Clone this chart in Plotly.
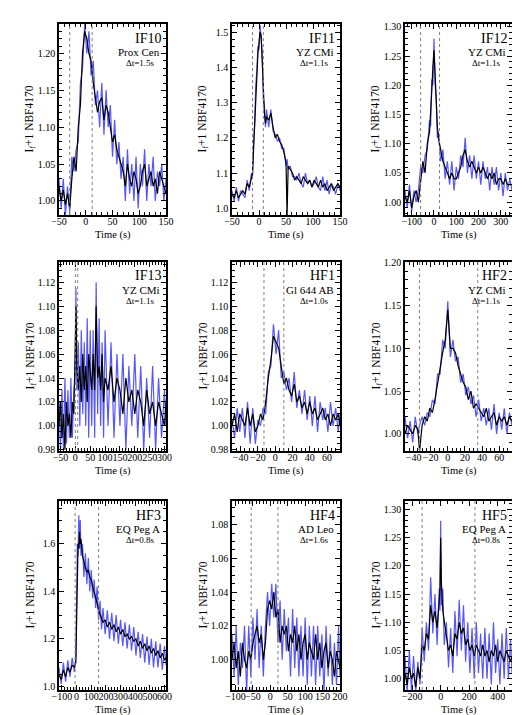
import plotly.graph_objects as go

# ---- data (time in s, I_f+1) ----
t_if10 = [-50,-46,-42,-38,-34,-30,-26,-22,-18,-14,-10,-6,-2,2,6,10,14,18,22,26,30,34,38,42,46,50,54,58,62,66,70,74,78,82,86,90,94,98,102,106,110,114,118,122,126,130,134,138,142,146,150]
k_if10 = [1.02,1.00,1.015,0.995,1.01,0.99,1.03,1.06,1.04,1.10,1.13,1.20,1.23,1.22,1.20,1.19,1.16,1.14,1.12,1.135,1.14,1.11,1.13,1.12,1.10,1.08,1.09,1.07,1.06,1.05,1.04,1.02,1.05,1.03,1.02,1.04,1.03,1.01,1.02,1.04,1.05,1.02,1.03,1.04,1.02,1.03,1.01,1.04,1.03,1.02,1.01]
b_if10 = [1.03,0.99,1.03,0.98,1.02,0.985,1.06,1.04,1.07,1.08,1.16,1.18,1.24,1.20,1.23,1.17,1.19,1.13,1.15,1.10,1.16,1.09,1.15,1.10,1.13,1.06,1.11,1.05,1.08,1.03,1.06,1.00,1.07,1.01,1.05,1.00,1.06,0.99,1.05,1.02,1.07,1.00,1.05,1.02,1.06,1.00,1.04,1.02,1.05,1.00,1.03]

t_if11 = [-50,-46,-42,-38,-34,-30,-26,-22,-18,-14,-12,-10,-8,-6,-4,-2,0,2,4,6,8,10,12,14,18,22,26,30,34,38,42,46,50,52,54,58,62,66,70,74,78,82,86,90,94,98,102,106,110,114,118,122,126,130,134,138,142,146,150]
k_if11 = [1.04,1.03,1.05,1.03,1.04,1.05,1.04,1.07,1.06,1.09,1.10,1.17,1.25,1.33,1.40,1.44,1.47,1.50,1.49,1.42,1.33,1.27,1.24,1.26,1.25,1.27,1.23,1.20,1.21,1.19,1.18,1.16,1.13,0.98,1.12,1.11,1.10,1.08,1.09,1.08,1.07,1.09,1.08,1.07,1.08,1.06,1.08,1.07,1.06,1.08,1.06,1.07,1.05,1.06,1.07,1.05,1.06,1.07,1.06]
b_if11 = [1.05,1.02,1.06,1.02,1.05,1.04,1.03,1.08,1.05,1.10,1.09,1.19,1.24,1.35,1.39,1.46,1.45,1.52,1.47,1.44,1.31,1.29,1.23,1.28,1.23,1.28,1.22,1.21,1.19,1.20,1.17,1.17,1.12,1.14,1.11,1.12,1.09,1.09,1.08,1.10,1.07,1.06,1.10,1.07,1.08,1.06,1.07,1.09,1.06,1.05,1.09,1.05,1.08,1.04,1.07,1.06,1.04,1.07,1.05]

t_if12 = [-130,-120,-110,-100,-90,-80,-70,-60,-50,-40,-30,-20,-15,-10,-5,0,5,10,15,20,30,40,50,60,70,80,90,100,110,120,130,140,150,160,170,180,190,200,210,220,230,240,250,260,270,280,290,300,310,320,330,340,350]
k_if12 = [1.01,1.00,1.02,0.99,1.01,1.02,1.00,1.04,1.07,1.05,1.10,1.12,1.15,1.19,1.23,1.26,1.22,1.17,1.13,1.11,1.09,1.07,1.06,1.05,1.04,1.05,1.04,1.04,1.05,1.06,1.08,1.09,1.07,1.06,1.07,1.06,1.05,1.06,1.05,1.06,1.05,1.04,1.05,1.04,1.05,1.03,1.04,1.04,1.03,1.04,1.03,1.03,1.03]
b_if12 = [1.02,0.99,1.03,0.985,1.02,1.00,1.02,1.06,1.05,1.08,1.09,1.14,1.13,1.21,1.20,1.28,1.20,1.18,1.11,1.12,1.07,1.09,1.04,1.07,1.03,1.07,1.02,1.06,1.04,1.08,1.06,1.11,1.05,1.08,1.04,1.08,1.04,1.07,1.03,1.07,1.04,1.06,1.02,1.06,1.03,1.06,1.02,1.05,1.01,1.05,1.02,1.04,1.02]

t_if13 = [-55,-50,-45,-40,-35,-30,-25,-20,-15,-10,-5,0,2,5,10,15,20,25,30,35,40,45,50,55,60,65,70,75,80,85,90,95,100,110,120,130,140,150,160,170,180,190,200,210,220,230,240,250,260,270,280,290,300,305]
k_if13 = [1.00,1.02,0.99,1.01,0.98,1.02,1.00,1.01,0.99,1.02,1.01,1.06,1.10,1.05,1.03,1.05,1.02,1.06,1.03,1.05,1.02,1.06,1.04,1.03,1.06,1.03,1.10,1.04,1.05,1.03,1.06,1.02,1.04,1.03,1.05,1.02,1.04,1.03,1.01,1.04,1.02,1.03,1.01,1.03,1.02,1.00,1.03,1.01,1.02,1.00,1.02,1.01,1.00,1.02]
b_if13 = [1.02,0.98,1.03,0.98,1.04,0.985,1.03,0.99,1.04,0.99,1.03,1.04,1.115,1.03,1.07,1.00,1.08,1.01,1.07,1.00,1.09,0.99,1.08,1.00,1.08,0.99,1.12,1.01,1.09,1.00,1.07,0.99,1.08,1.00,1.07,0.99,1.06,1.00,1.06,0.98,1.05,1.00,1.06,0.99,1.05,0.98,1.04,0.99,1.05,0.98,1.04,0.99,1.03,1.00]

t_hf1 = [-50,-47,-44,-41,-38,-35,-32,-29,-26,-23,-20,-17,-14,-11,-8,-5,-2,1,4,7,10,13,16,19,22,25,28,31,34,37,40,43,46,49,52,55,58,61,64,67,70,73,75]
k_hf1 = [1.00,1.01,0.995,1.01,1.005,1.00,1.015,1.00,1.01,0.995,1.00,1.01,1.005,1.02,1.04,1.055,1.075,1.07,1.065,1.05,1.035,1.04,1.03,1.025,1.035,1.02,1.025,1.015,1.02,1.01,1.02,1.01,1.015,1.005,1.01,1.015,1.005,1.01,1.00,1.01,1.005,1.01,1.00]
b_hf1 = [1.005,0.99,1.015,0.995,1.015,0.99,1.02,0.985,1.015,0.985,1.005,1.00,1.015,1.01,1.045,1.05,1.085,1.06,1.08,1.04,1.045,1.03,1.04,1.02,1.045,1.015,1.03,1.01,1.03,1.005,1.025,1.00,1.025,0.995,1.02,1.005,1.015,0.995,1.02,1.00,1.015,0.995,1.01]

t_hf2 = [-50,-47,-44,-41,-38,-35,-33,-30,-27,-24,-21,-18,-15,-12,-9,-6,-3,0,3,6,9,12,15,18,21,24,27,30,33,36,39,42,45,48,51,54,57,60,63,66,69,72,75]
k_hf2 = [1.00,1.01,1.005,1.00,1.01,1.005,0.98,1.01,1.02,1.015,1.03,1.025,1.04,1.06,1.08,1.095,1.11,1.145,1.10,1.10,1.095,1.08,1.07,1.06,1.055,1.04,1.05,1.03,1.035,1.03,1.025,1.02,1.03,1.015,1.02,1.025,1.01,1.02,1.015,1.02,1.01,1.02,1.015]
b_hf2 = [1.02,0.995,1.015,0.99,1.02,1.00,1.01,1.02,1.01,1.025,1.02,1.04,1.035,1.07,1.07,1.11,1.10,1.155,1.09,1.11,1.085,1.09,1.06,1.07,1.045,1.055,1.035,1.045,1.02,1.04,1.015,1.03,1.01,1.03,1.005,1.035,1.00,1.025,1.005,1.03,1.00,1.025,1.01]

t_hf3 = [-120,-105,-90,-75,-60,-45,-30,-15,-5,0,5,10,15,20,25,30,40,50,60,70,80,90,100,110,120,130,140,150,160,170,180,195,210,225,240,255,270,285,300,315,330,345,360,375,390,405,420,435,450,465,480,495,510,525,540,555,570,585,600,610]
k_hf3 = [1.05,1.03,1.07,1.04,1.08,1.06,1.09,1.08,1.10,1.35,1.55,1.60,1.58,1.65,1.60,1.62,1.55,1.52,1.50,1.48,1.49,1.46,1.45,1.42,1.40,1.38,1.35,1.32,1.30,1.29,1.27,1.28,1.25,1.27,1.24,1.26,1.23,1.25,1.22,1.24,1.21,1.22,1.20,1.21,1.19,1.20,1.17,1.19,1.16,1.18,1.15,1.17,1.14,1.16,1.13,1.15,1.12,1.14,1.11,1.12]
b_hf3 = [1.08,1.01,1.10,1.02,1.11,1.04,1.12,1.06,1.13,1.45,1.60,1.55,1.72,1.58,1.70,1.55,1.60,1.46,1.56,1.43,1.54,1.40,1.49,1.37,1.45,1.33,1.42,1.28,1.36,1.24,1.33,1.22,1.32,1.20,1.31,1.19,1.30,1.18,1.28,1.17,1.27,1.16,1.26,1.15,1.25,1.13,1.23,1.12,1.22,1.10,1.21,1.09,1.20,1.08,1.19,1.08,1.18,1.07,1.17,1.09]

t_hf4 = [-110,-104,-98,-92,-86,-80,-74,-68,-62,-56,-50,-44,-38,-32,-26,-20,-14,-8,-2,4,10,16,22,28,34,40,46,52,58,64,70,76,82,88,94,100,106,112,118,124,130,136,142,148,154,160,166,172,178,184,190,196,200]
k_hf4 = [1.00,1.01,0.995,1.005,0.99,1.01,1.00,0.995,1.005,1.00,1.01,1.015,1.02,1.01,1.015,1.00,1.01,1.03,1.035,1.03,1.04,1.025,1.03,1.01,1.02,1.015,1.02,1.005,1.015,1.01,1.02,1.005,1.015,1.00,1.01,1.015,1.00,1.01,1.005,1.00,1.015,1.00,1.01,0.995,1.005,1.01,0.995,1.005,1.00,0.99,1.005,1.00,0.995]
b_hf4 = [1.015,0.99,1.02,0.985,1.01,0.995,1.02,0.98,1.02,0.99,1.025,1.00,1.03,0.995,1.02,0.99,1.02,1.04,1.02,1.045,1.025,1.045,1.01,1.035,1.00,1.03,1.005,1.025,0.99,1.03,0.995,1.025,0.99,1.02,0.99,1.025,0.985,1.02,0.99,1.02,0.985,1.02,0.99,1.015,0.98,1.02,0.99,1.015,0.985,1.01,0.985,1.02,0.99]

t_hf5 = [-250,-235,-220,-205,-190,-175,-160,-145,-130,-115,-100,-85,-70,-55,-40,-25,-10,-5,0,5,15,25,40,55,70,85,100,115,130,145,160,175,190,205,220,235,250,265,280,295,310,325,340,355,370,385,400,415,430,445,460,475,490,500]
k_hf5 = [1.01,0.99,1.02,1.00,1.01,0.985,1.02,1.00,1.06,1.05,1.08,1.07,1.13,1.10,1.12,1.09,1.14,1.16,1.25,1.17,1.12,1.10,1.07,1.05,1.06,1.04,1.08,1.07,1.10,1.08,1.09,1.06,1.07,1.05,1.06,1.04,1.06,1.05,1.04,1.06,1.04,1.05,1.03,1.05,1.04,1.06,1.03,1.05,1.04,1.03,1.05,1.04,1.03,1.04]
b_hf5 = [1.04,0.975,1.05,0.98,1.04,0.975,1.03,0.99,1.09,1.03,1.10,1.05,1.18,1.08,1.15,1.06,1.16,1.12,1.28,1.13,1.16,1.06,1.10,1.02,1.09,1.01,1.12,1.04,1.14,1.05,1.13,1.03,1.10,1.01,1.09,1.00,1.10,1.01,1.08,1.00,1.09,1.00,1.08,0.99,1.10,1.01,1.07,0.99,1.08,1.00,1.09,1.00,1.07,1.01]

names = ["IF10", "IF11", "IF12", "IF13", "HF1", "HF2", "HF3", "HF4", "HF5"]
stars = ["Prox Cen", "YZ CMi", "YZ CMi", "YZ CMi", "Gl 644 AB", "YZ CMi", "EQ Peg A", "AD Leo", "EQ Peg A"]
cadence = ["1.5", "1.1", "1.1", "1.1", "1.0", "1.1", "0.8", "1.6", "0.8"]
vlines = [(-30, 12), (-12, 8), (-60, 25), (0, 8), (-13, 10), (-33, 35), (-10, 150), (-55, 22), (-130, 240)]

panels = [
    (t_if10, k_if10, b_if10), (t_if11, k_if11, b_if11), (t_if12, k_if12, b_if12),
    (t_if13, k_if13, b_if13), (t_hf1, k_hf1, b_hf1), (t_hf2, k_hf2, b_hf2),
    (t_hf3, k_hf3, b_hf3), (t_hf4, k_hf4, b_hf4), (t_hf5, k_hf5, b_hf5),
]

xranges = [[-50, 150], [-50, 150], [-130, 350], [-55, 305], [-50, 75], [-50, 75], [-120, 610], [-110, 200], [-250, 500]]
yranges = [[0.981, 1.240], [0.981, 1.523], [0.978, 1.305], [0.979, 1.137], [0.979, 1.137], [0.980, 1.201], [0.985, 1.78], [0.982, 1.094], [0.980, 1.315]]
xdticks = [50, 50, 100, 50, 20, 20, 100, 50, 200]
ydticks = [0.05, 0.1, 0.05, 0.02, 0.02, 0.05, 0.2, 0.02, 0.05]
yfmt = [".2f", ".1f", ".2f", ".2f", ".2f", ".2f", ".1f", ".2f", ".2f"]

W, H = 520, 715
cols = [(51, 158), (224, 332), (397, 504)]
rows = [(16, 207), (254, 443), (493, 682)]
FONT = "Liberation Serif"

fig = go.Figure()
layout = {}
for i, (t, k, b) in enumerate(panels):
    r, c = divmod(i, 3)
    n = "" if i == 0 else str(i + 1)
    xa, ya = "x" + n, "y" + n
    fig.add_trace(go.Scatter(x=t, y=b, mode="lines", line=dict(color="rgba(30,30,255,0.75)", width=1.2),
                             xaxis=xa, yaxis=ya, showlegend=False, hoverinfo="skip"))
    fig.add_trace(go.Scatter(x=t, y=k, mode="lines", line=dict(color="black", width=1.2),
                             xaxis=xa, yaxis=ya, showlegend=False, hoverinfo="skip"))
    x0, x1 = cols[c]
    y0, y1 = rows[r]
    common = dict(showline=True, mirror="ticks", linecolor="black", linewidth=1.5, ticks="inside",
                  ticklen=5, tickcolor="black", showgrid=False, zeroline=False, automargin=False,
                  tickangle=0, tickfont=dict(family=FONT, size=10, color="black"),
                  minor=dict(ticks="inside", ticklen=3, tickcolor="black"))
    layout["xaxis" + n] = dict(common, domain=[x0 / W, x1 / W], range=xranges[i], dtick=xdticks[i],
                               anchor=ya, ticklabelstandoff=-4)
    layout["yaxis" + n] = dict(common, domain=[1 - y1 / H, 1 - y0 / H], range=yranges[i], dtick=ydticks[i],
                               tickformat=yfmt[i], anchor=xa)
    # axis titles
    fig.add_annotation(text="Time (s)", xref="paper", yref="paper", x=(x0 + x1) / 2 / W,
                       y=1 - (y1 + 20) / H, xanchor="center", yanchor="middle", showarrow=False,
                       font=dict(family=FONT, size=10.5, color="black"))
    fig.add_annotation(text="I<sub>f</sub>+1 NBF4170", xref="paper", yref="paper", x=(x0 - 29) / W,
                       y=1 - (y0 + y1) / 2 / H, xanchor="center", yanchor="middle", textangle=-90,
                       showarrow=False, font=dict(family=FONT, size=11.5, color="black"))
    for v in vlines[i]:
        fig.add_shape(type="line", xref=xa, yref=ya + " domain", x0=v, x1=v, y0=0, y1=1,
                      line=dict(color="gray", width=1, dash="dot"))
    fig.add_annotation(text=names[i], xref="paper", yref="paper", x=(x1 - 3) / W, y=1 - (y0 + 14) / H,
                       xanchor="right", yanchor="middle", showarrow=False,
                       font=dict(family=FONT, size=14, color="black"))
    fig.add_annotation(text=stars[i], xref="paper", yref="paper", x=(x1 - 4) / W, y=1 - (y0 + 28) / H,
                       xanchor="right", yanchor="middle", showarrow=False,
                       font=dict(family=FONT, size=11, color="black"))
    fig.add_annotation(text="\u0394t=" + cadence[i] + "s", xref="paper", yref="paper", x=(x1 - 9) / W,
                       y=1 - (y0 + 39) / H, xanchor="right", yanchor="middle", showarrow=False,
                       font=dict(family=FONT, size=9, color="black"))

fig.update_layout(width=W, height=H, margin=dict(l=0, r=0, t=0, b=0),
                  paper_bgcolor="white", plot_bgcolor="white", **layout)
fig.write_html("out.html")
